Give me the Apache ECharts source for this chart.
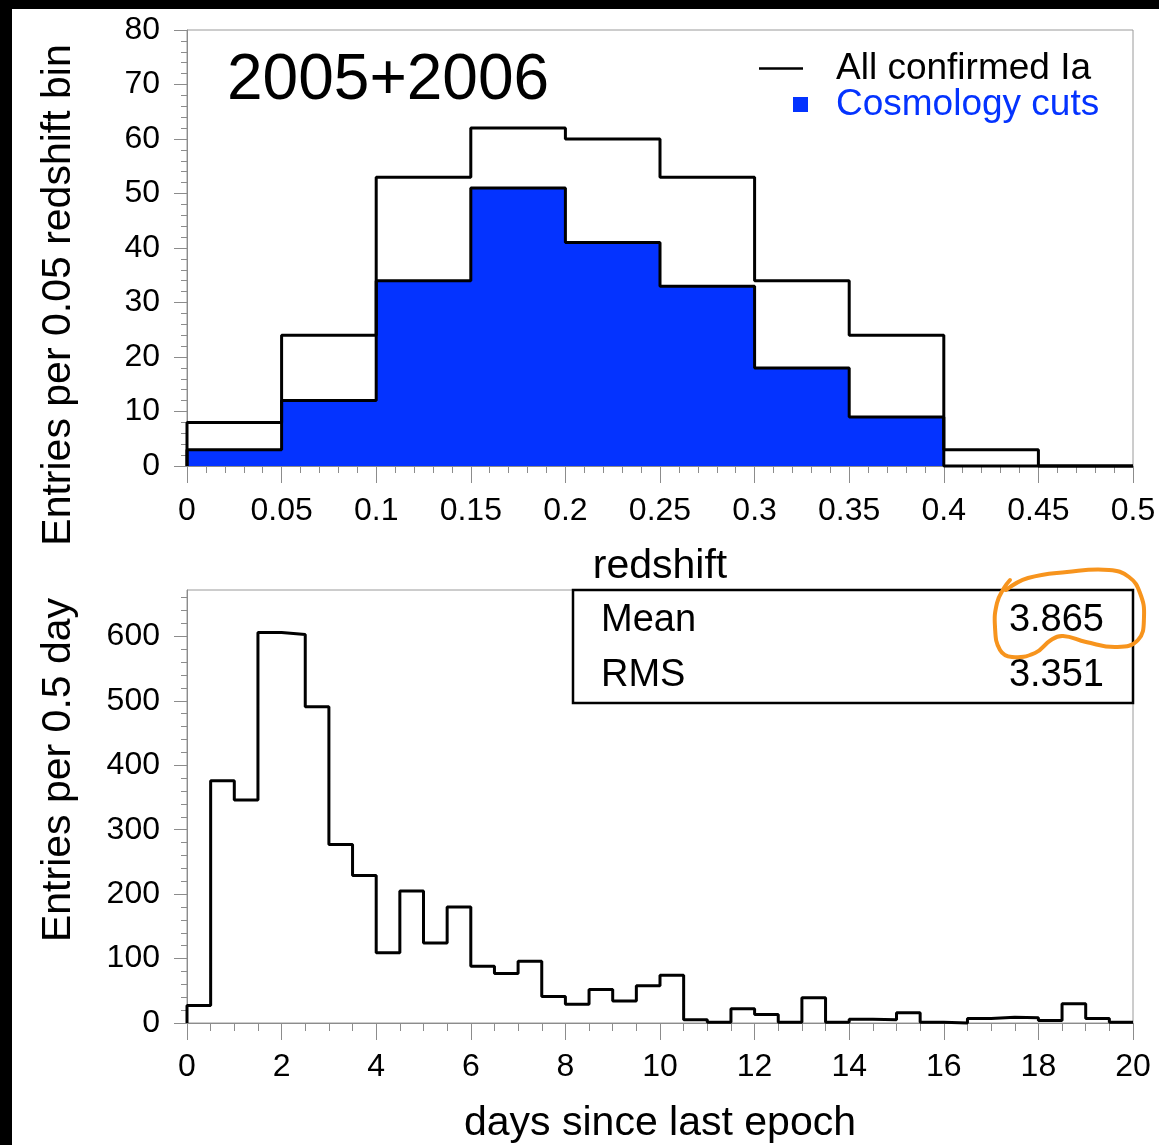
<!DOCTYPE html>
<html>
<head>
<meta charset="utf-8">
<script src="https://cdn.jsdelivr.net/npm/echarts@6/dist/echarts.min.js"></script>
<style>
  html, body { margin: 0; padding: 0; background: #fff; }
  #chart { position: absolute; left: 0; top: 0; width: 1159px; height: 1145px; }
  .edge { position: absolute; background: #000; }
</style>
</head>
<body>
<div id="chart"></div>
<div class="edge" style="left:0;top:0;width:1159px;height:9px"></div>
<div class="edge" style="left:0;top:0;width:12px;height:1145px"></div>
<script>
const FONT = '"Liberation Sans", Arial, Helvetica, sans-serif';
const BLUE = '#0433ff';
const AXIS_GREY = '#8c8c8c';

// Redshift distribution, 0.05-wide bins from 0 to 0.5
const zBinWidth = 0.05;
const zAllConfirmed = [8, 24, 53, 62, 60, 53, 34, 24, 3, 0];
const zCosmologyCuts = [3, 12, 34, 51, 41, 33, 18, 9, 0, 0];

// Days since last epoch, 0.5-day bins from 0 to 20
const dayBinWidth = 0.5;
const dayCounts = [
  27, 376, 346, 606, 603, 491, 277, 229, 109, 205,
  124, 180, 88, 77, 96, 41, 29, 52, 34, 58,
  74, 5, 1, 22, 13, 1, 39, 1, 6, 5,
  16, 1, 0, 7, 9, 8, 4, 30, 7, 1
];

// Summary of the day distribution
const statsLabels = ['Mean', 'RMS'];
const statsValues = ['3.865', '3.351'];

const yTicksDays = [0, 100, 200, 300, 400, 500, 600];

// Turn bin contents into a histogram outline (left edge, then one point per bin edge)
function histOutline(counts, width) {
  const pts = [[0, 0]];
  counts.forEach((c, i) => pts.push([i * width, c]));
  pts.push([counts.length * width, counts[counts.length - 1]]);
  return pts;
}

function valueAxis(opts) {
  return Object.assign({
    type: 'value',
    splitLine: { show: false },
    axisLine: { show: true, onZero: false, lineStyle: { color: AXIS_GREY, width: 1 } },
    axisTick: { show: true, lineStyle: { color: AXIS_GREY, width: 1 } },
    minorTick: { show: true, lineStyle: { color: AXIS_GREY, width: 1 } },
    axisLabel: { color: '#000', fontSize: 32, fontFamily: FONT },
    nameTextStyle: { color: '#000', fontSize: 41, fontFamily: FONT }
  }, opts);
}

const chart = echarts.init(document.getElementById('chart'), null, { renderer: 'canvas' });

const option = {
  backgroundColor: '#fff',
  animation: false,
  title: {
    text: '2005+2006',
    left: 222,
    top: 44,
    textStyle: { fontSize: 64, fontWeight: 'normal', color: '#000', fontFamily: FONT }
  },
  legend: [
    {
      data: [{ name: 'All confirmed Ia', icon: 'rect', itemStyle: { color: '#000' } }],
      left: 754, top: 45,
      itemWidth: 44, itemHeight: 2.5,
      selectedMode: false,
      textStyle: { fontSize: 37, color: '#000', fontFamily: FONT, padding: [0, 0, 0, 28] }
    },
    {
      data: [{ name: 'Cosmology cuts', icon: 'rect', itemStyle: { color: BLUE } }],
      left: 788, top: 81,
      itemWidth: 15, itemHeight: 15,
      selectedMode: false,
      textStyle: { fontSize: 37, color: BLUE, fontFamily: FONT, padding: [0, 0, 0, 23] }
    }
  ],
  grid: [
    { left: 187, top: 30, width: 946, height: 436, show: true, borderColor: '#9a9a9a', borderWidth: 1, backgroundColor: 'transparent' },
    { left: 187, top: 590, width: 946, height: 436, show: true, borderColor: '#9a9a9a', borderWidth: 1, backgroundColor: 'transparent' }
  ],
  xAxis: [
    valueAxis({
      gridIndex: 0, min: 0, max: 0.5, interval: 0.05,
      axisTick: { show: true, length: 17, lineStyle: { color: AXIS_GREY } },
      minorTick: { show: true, splitNumber: 5, length: 7, lineStyle: { color: AXIS_GREY } },
      axisLabel: { color: '#000', fontSize: 32, fontFamily: FONT, margin: 29 },
      name: 'redshift', nameLocation: 'middle', nameGap: 80
    }),
    valueAxis({
      gridIndex: 1, min: 0, max: 20, interval: 2,
      axisTick: { show: true, length: 17, lineStyle: { color: AXIS_GREY } },
      minorTick: { show: true, splitNumber: 4, length: 8, lineStyle: { color: AXIS_GREY } },
      axisLabel: { color: '#000', fontSize: 32, fontFamily: FONT, margin: 28 },
      name: 'days since last epoch', nameLocation: 'middle', nameGap: 80
    })
  ],
  yAxis: [
    valueAxis({
      gridIndex: 0, min: 0, max: 80, interval: 10,
      axisTick: { show: true, length: 13, lineStyle: { color: AXIS_GREY } },
      minorTick: { show: true, splitNumber: 5, length: 6, lineStyle: { color: AXIS_GREY } },
      axisLabel: { color: '#000', fontSize: 32, fontFamily: FONT, margin: 27 }
    }),
    valueAxis({
      gridIndex: 1, min: 0, max: 672, interval: 100,
      axisTick: { show: true, length: 13, customValues: yTicksDays, lineStyle: { color: AXIS_GREY } },
      minorTick: { show: true, splitNumber: 5, length: 6, lineStyle: { color: AXIS_GREY } },
      axisLabel: { color: '#000', fontSize: 32, fontFamily: FONT, margin: 27, customValues: yTicksDays }
    })
  ],
  series: [
    {
      name: 'Cosmology cuts',
      type: 'line', step: 'end', xAxisIndex: 0, yAxisIndex: 0,
      data: histOutline(zCosmologyCuts, zBinWidth),
      symbol: 'none', clip: false,
      itemStyle: { color: BLUE },
      lineStyle: { color: '#000', width: 3 },
      areaStyle: { color: BLUE, opacity: 1 },
      z: 2
    },
    {
      name: 'All confirmed Ia',
      type: 'line', step: 'end', xAxisIndex: 0, yAxisIndex: 0,
      data: histOutline(zAllConfirmed, zBinWidth),
      symbol: 'none', clip: false,
      itemStyle: { color: '#000' },
      lineStyle: { color: '#000', width: 3 },
      z: 3
    },
    {
      name: 'days',
      type: 'line', step: 'end', xAxisIndex: 1, yAxisIndex: 1,
      data: histOutline(dayCounts, dayBinWidth),
      symbol: 'none', clip: false,
      itemStyle: { color: '#000' },
      lineStyle: { color: '#000', width: 3 },
      z: 3
    }
  ],
  graphic: [
    {
      type: 'text', x: 59, y: 295, rotation: Math.PI / 2,
      style: { text: 'Entries per 0.05 redshift bin', font: '41px ' + FONT, fill: '#000', textAlign: 'center', textVerticalAlign: 'middle' }
    },
    {
      type: 'text', x: 59, y: 770, rotation: Math.PI / 2,
      style: { text: 'Entries per 0.5 day', font: '41px ' + FONT, fill: '#000', textAlign: 'center', textVerticalAlign: 'middle' }
    },
    {
      type: 'group', z: 100,
      children: [
        { type: 'rect', shape: { x: 573, y: 590, width: 560, height: 113 }, style: { fill: '#fff', stroke: '#000', lineWidth: 2.5 } },
        { type: 'text', x: 601, y: 621, style: { text: statsLabels[0], font: '38px ' + FONT, fill: '#000', textAlign: 'left', textVerticalAlign: 'middle' } },
        { type: 'text', x: 1104, y: 621, style: { text: statsValues[0], font: '38px ' + FONT, fill: '#000', textAlign: 'right', textVerticalAlign: 'middle' } },
        { type: 'text', x: 601, y: 676, style: { text: statsLabels[1], font: '38px ' + FONT, fill: '#000', textAlign: 'left', textVerticalAlign: 'middle' } },
        { type: 'text', x: 1104, y: 676, style: { text: statsValues[1], font: '38px ' + FONT, fill: '#000', textAlign: 'right', textVerticalAlign: 'middle' } }
      ]
    },
    {
      // hand-drawn highlight loop around the mean value
      type: 'polyline', z: 110,
      shape: {
        smooth: 0.45,
        points: [
          [1006, 590], [1028, 578], [1067, 572], [1109, 570], [1129, 577],
          [1140, 593], [1144, 617], [1138, 640], [1117, 647], [1086, 642],
          [1063, 636], [1051, 640], [1035, 653], [1012, 657], [1000, 650],
          [995, 627], [997, 603], [1004, 588], [1010, 580]
        ]
      },
      style: { stroke: '#f7941d', lineWidth: 4, fill: null, lineCap: 'round', lineJoin: 'round' }
    }
  ]
};

chart.setOption(option);
</script>
</body>
</html>
